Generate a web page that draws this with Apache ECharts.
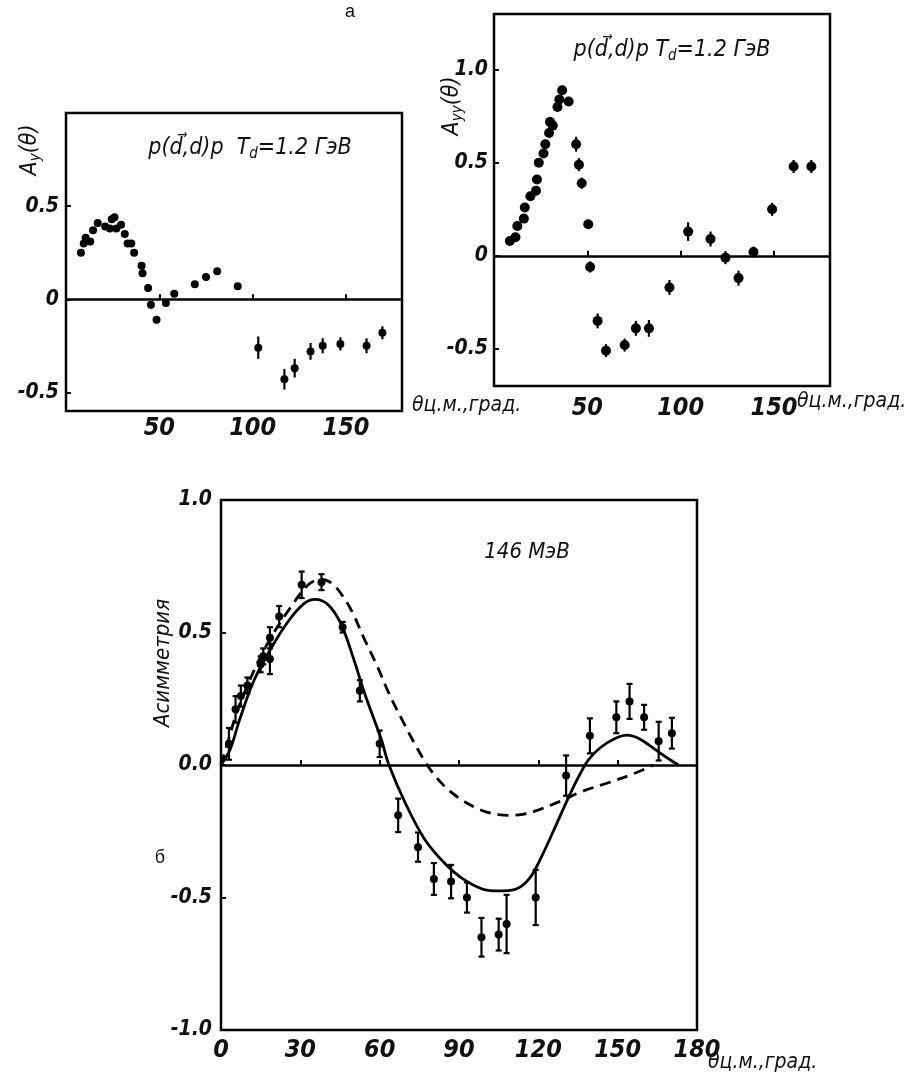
<!DOCTYPE html>
<html>
<head>
<meta charset="utf-8">
<title>Асимметрия</title>
<script src="https://cdn.jsdelivr.net/npm/echarts/dist/echarts.min.js"></script>
<style>
  body { margin: 0; background: #fff; }
  #main { width: 909px; height: 1077px; }
</style>
</head>
<body>
<div id="main"></div>
<script type="text/javascript">

// ---------- а, left: Ay(θ) ----------
var ayAngle = [8, 9.5, 10.5, 13, 14.5, 17, 21, 23.5, 24.5, 26, 27, 29.5, 31.5, 33, 35, 36.5, 40.5, 41, 44, 45.5,
               48.5, 53.5, 58, 69, 75, 81, 92, 103, 117, 122.5, 131, 137.5, 147, 161, 169.5]
var ayValue = [0.25, 0.30, 0.33, 0.31, 0.37, 0.41, 0.39, 0.38, 0.43, 0.44, 0.38, 0.40, 0.35, 0.30, 0.30, 0.25, 0.18, 0.14, 0.06, -0.03,
               -0.11, -0.02, 0.03, 0.08, 0.12, 0.15, 0.07, -0.26, -0.43, -0.37, -0.28, -0.25, -0.24, -0.25, -0.18]
var ayError = [0, 0, 0, 0, 0, 0, 0, 0, 0, 0, 0, 0, 0, 0, 0, 0, 0.02, 0.02, 0.02, 0.02,
               0.02, 0.02, 0, 0, 0, 0, 0, 0.06, 0.055, 0.05, 0.045, 0.04, 0.035, 0.04, 0.035]

// ---------- а, right: Ayy(θ) ----------
var ayyAngle = [8.5, 11.5, 12.5, 16, 16.5, 19.5, 22.5, 23, 24, 26.5, 27.5, 29.5, 30, 31.5, 34, 35, 36.5, 40, 44, 45.5,
                47, 50.5, 51.5, 55.5, 60, 70, 76, 83, 94, 104, 116, 124, 131, 139, 149, 160.5, 170]
var ayyValue = [0.08, 0.10, 0.16, 0.20, 0.26, 0.32, 0.35, 0.41, 0.50, 0.55, 0.60, 0.66, 0.72, 0.70, 0.80, 0.84, 0.89, 0.83, 0.60, 0.49,
                0.39, 0.17, -0.06, -0.35, -0.51, -0.48, -0.39, -0.39, -0.17, 0.13, 0.09, -0.01, -0.12, 0.02, 0.25, 0.48, 0.48]
var ayyError = [0, 0, 0, 0, 0, 0, 0, 0, 0, 0, 0, 0, 0, 0, 0, 0, 0, 0, 0.04, 0.035,
                0.03, 0, 0.03, 0.04, 0.035, 0.035, 0.04, 0.045, 0.04, 0.05, 0.04, 0.035, 0.04, 0.03, 0.035, 0.035, 0.035]

// ---------- б: 146 МэВ ----------
var asymAngle = [3, 5.5, 7.5, 10, 15, 16, 18.5, 18.5, 22, 30.5, 38, 46, 52.5, 60, 67, 74.5, 80.5, 87, 93, 98.5,
                 105, 108, 119, 130.5, 139.5, 149.5, 154.5, 160, 165.5, 170.5]
var asymValue = [0.08, 0.21, 0.26, 0.30, 0.38, 0.41, 0.40, 0.48, 0.56, 0.68, 0.69, 0.52, 0.28, 0.08, -0.19, -0.31, -0.43, -0.44, -0.50, -0.65,
                 -0.64, -0.60, -0.50, -0.04, 0.11, 0.18, 0.24, 0.18, 0.09, 0.12]
var asymError = [0.06, 0.05, 0.04, 0.03, 0.03, 0.03, 0.057, 0.04, 0.04, 0.05, 0.03, 0.02, 0.04, 0.05, 0.063, 0.055, 0.06, 0.063, 0.057, 0.073,
                 0.06, 0.11, 0.104, 0.076, 0.066, 0.06, 0.066, 0.047, 0.073, 0.058]

// theory curves
var solidAngle = [0, 3.5, 7, 12.5, 19.5, 26, 31.5, 35.5, 40.5, 45.5, 50, 54.5, 60.5, 63.5, 70, 77, 84.5, 91.5, 99.5, 105,
                  111, 116.5, 121.5, 127, 132, 136, 139, 143.5, 149, 153.5, 158, 164, 169, 173]
var solidValue = [0, 0.06, 0.17, 0.32, 0.45, 0.55, 0.61, 0.625, 0.605, 0.53, 0.405, 0.265, 0.10, 0.0, -0.15, -0.28, -0.37, -0.43, -0.47, -0.475,
                  -0.47, -0.43, -0.34, -0.22, -0.11, -0.03, 0.02, 0.066, 0.10, 0.113, 0.10, 0.06, 0.025, 0.0]
var dashAngle = [0, 3, 6, 10, 15, 20, 26, 33, 38, 42, 45.5, 49.5, 54, 59, 63.5, 68.5, 73, 77, 80.5, 84,
                 88, 91.5, 96, 100.5, 105, 109.5, 114, 118.5, 127.5, 136.5, 147, 156, 163.5]
var dashValue = [0, 0.10, 0.20, 0.30, 0.41, 0.50, 0.59, 0.68, 0.70, 0.685, 0.645, 0.58, 0.48, 0.375, 0.27, 0.17, 0.085, 0.015, -0.035, -0.075,
                 -0.11, -0.135, -0.16, -0.178, -0.187, -0.19, -0.186, -0.175, -0.14, -0.10, -0.065, -0.033, 0.0]

// tick values
var topAngleTicks = [50, 100, 150]
var ayTicks = [-0.5, 0, 0.5]
var ayyTicks = [-0.5, 0, 0.5, 1.0]
var asymAngleTicks = [0, 30, 60, 90, 120, 150, 180]
var asymTicks = [-1.0, -0.5, 0, 0.5, 1.0]

var hand = "'DejaVu Sans Condensed', 'DejaVu Sans', sans-serif"
var narrow = "'Liberation Sans Narrow', 'DejaVu Sans Condensed', 'DejaVu Sans', sans-serif"

function zip(a, b, c) {
        return a.map(function (v, i) { return c ? [v, b[i], c[i]] : [v, b[i]] })
}

function errorBars(cap) {
        return function (params, api) {
                var e = api.value(2)
                if (!e) return
                var hi = api.coord([api.value(0), api.value(1) + e])
                var lo = api.coord([api.value(0), api.value(1) - e])
                var st = { stroke: '#000', lineWidth: 2.2 }
                var kids = [{ type: 'line', shape: { x1: hi[0], y1: hi[1], x2: lo[0], y2: lo[1] }, style: st }]
                if (cap) {
                        kids.push({ type: 'line', shape: { x1: hi[0] - cap, y1: hi[1], x2: hi[0] + cap, y2: hi[1] }, style: st })
                        kids.push({ type: 'line', shape: { x1: lo[0] - cap, y1: lo[1], x2: lo[0] + cap, y2: lo[1] }, style: st })
                }
                return { type: 'group', children: kids }
        }
}

function xAxisCfg(idx, ticks, fs, margin) {
        return {
                type: 'value', gridIndex: idx, min: 0, max: 180,
                axisLine: { show: false },
                splitLine: { show: false },
                axisTick: { inside: true, length: 5, customValues: ticks, lineStyle: { color: '#000', width: 2 } },
                axisLabel: {
                        customValues: ticks, margin: margin,
                        fontFamily: narrow, fontStyle: 'italic', fontWeight: 'bold', fontSize: fs, color: '#111'
                }
        }
}

function yAxisCfg(idx, min, max, ticks, fmt, margin) {
        return {
                type: 'value', gridIndex: idx, min: min, max: max,
                axisLine: { show: false },
                splitLine: { show: false },
                axisTick: { inside: true, length: 5, customValues: ticks, lineStyle: { color: '#000', width: 2 } },
                axisLabel: {
                        customValues: ticks, margin: margin, formatter: fmt,
                        fontFamily: narrow, fontStyle: 'italic', fontWeight: 'bold', fontSize: 21, color: '#111'
                }
        }
}

var zeroLine = {
        silent: true, symbol: ['none', 'none'], label: { show: false },
        lineStyle: { color: '#000', type: 'solid', width: 2.5 },
        data: [{ yAxis: 0 }]
}

var dot = { color: '#000', opacity: 1 }

function fmtA(v) { return v === 0 ? '0' : v.toFixed(1) }
function fmtC(v) { return v.toFixed(1) }

function txt(x, y, text, size, opts) {
        opts = opts || {}
        return {
                type: 'text', x: x, y: y, rotation: opts.rot || 0,
                style: {
                        text: text, fill: '#111',
                        fontFamily: opts.font || hand, fontStyle: opts.plain ? 'normal' : 'italic',
                        fontSize: size, align: opts.align || 'center', verticalAlign: 'middle',
                        rich: { s: { fontSize: Math.round(size * 0.65), fontFamily: opts.font || hand, fontStyle: 'italic', padding: [Math.round(size * 0.55), 0, 0, 0] } }
                }
        }
}

var chart = echarts.init(document.getElementById('main'))

chart.setOption({
        animation: false,
        backgroundColor: '#fff',
        grid: [
                { left: 66, top: 113, width: 336, height: 298, show: true, borderColor: '#000', borderWidth: 2.5 },
                { left: 494, top: 14, width: 336, height: 372, show: true, borderColor: '#000', borderWidth: 2.5 },
                { left: 221, top: 500, width: 476, height: 530, show: true, borderColor: '#000', borderWidth: 2.5 }
        ],
        xAxis: [
                xAxisCfg(0, topAngleTicks, 25, 5),
                xAxisCfg(1, topAngleTicks, 25, 10),
                xAxisCfg(2, asymAngleTicks, 25, 8)
        ],
        yAxis: [
                yAxisCfg(0, -0.6, 1.0, ayTicks, fmtA, 7),
                yAxisCfg(1, -0.7, 1.3, ayyTicks, fmtA, 6),
                yAxisCfg(2, -1.0, 1.0, asymTicks, fmtC, 9)
        ],
        series: [
                {
                        type: 'scatter', xAxisIndex: 0, yAxisIndex: 0, data: zip(ayAngle, ayValue),
                        symbol: 'circle', symbolSize: 8, itemStyle: dot, markLine: zeroLine
                },
                {
                        type: 'custom', xAxisIndex: 0, yAxisIndex: 0, data: zip(ayAngle, ayValue, ayError),
                        renderItem: errorBars(0)
                },
                {
                        type: 'scatter', xAxisIndex: 1, yAxisIndex: 1, data: zip(ayyAngle, ayyValue),
                        symbol: 'circle', symbolSize: 10, itemStyle: dot, markLine: zeroLine
                },
                {
                        type: 'custom', xAxisIndex: 1, yAxisIndex: 1, data: zip(ayyAngle, ayyValue, ayyError),
                        renderItem: errorBars(0)
                },
                {
                        type: 'line', xAxisIndex: 2, yAxisIndex: 2, data: zip(solidAngle, solidValue),
                        smooth: 0.35, showSymbol: false, lineStyle: { color: '#000', width: 2.8 }, markLine: zeroLine
                },
                {
                        type: 'line', xAxisIndex: 2, yAxisIndex: 2, data: zip(dashAngle, dashValue),
                        smooth: 0.35, showSymbol: false, lineStyle: { color: '#000', width: 2.8, type: [11, 7] }
                },
                {
                        type: 'custom', xAxisIndex: 2, yAxisIndex: 2, data: zip(asymAngle, asymValue, asymError),
                        renderItem: errorBars(3)
                },
                {
                        type: 'scatter', xAxisIndex: 2, yAxisIndex: 2, data: zip(asymAngle, asymValue),
                        symbol: 'circle', symbolSize: 8, itemStyle: dot
                }
        ],
        graphic: [
                txt(350, 12, 'а', 18, { plain: true, font: "'Liberation Sans', sans-serif" }),
                txt(160, 858, 'б', 18, { plain: true, font: "'Liberation Sans', sans-serif" }),
                txt(250, 148, 'p(d\u20D7,d)p  T{s|d}=1.2 ГэВ', 23),
                txt(672, 50, 'p(d\u20D7,d)p T{s|d}=1.2 ГэВ', 23),
                txt(527, 552, '146 МэВ', 22),
                txt(30, 150, 'A{s|y}(θ)', 23, { rot: Math.PI / 2 }),
                txt(452, 106, 'A{s|yy}(θ)', 23, { rot: Math.PI / 2 }),
                txt(163, 663, 'Асимметрия', 22, { rot: Math.PI / 2 }),
                txt(412, 406, 'θц.м.,град.', 21, { align: 'left' }),
                txt(797, 402, 'θц.м.,град.', 21, { align: 'left' }),
                txt(708, 1063, 'θц.м.,град.', 21, { align: 'left' })
        ]
})

</script>
</body>
</html>
